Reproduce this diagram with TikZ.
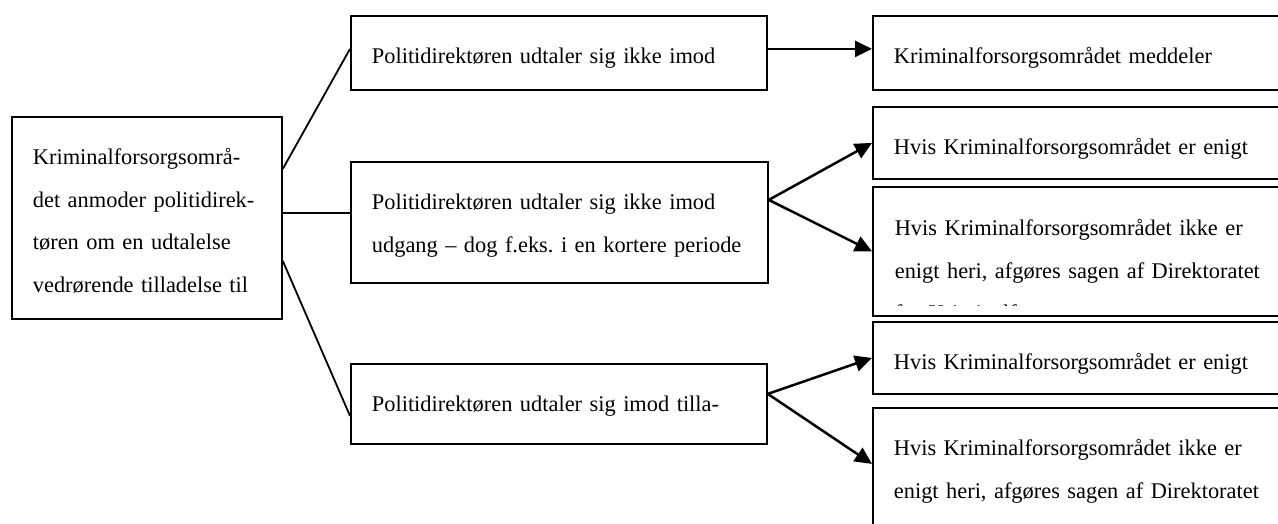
\documentclass[tikz,border=0pt]{standalone}
\usepackage{fontspec}
\setmainfont{Liberation Serif}
\usetikzlibrary{arrows.meta}
\newcommand\boxfont{\fontsize{22.4}{42.5}\selectfont\frenchspacing}
\begin{document}
\begin{tikzpicture}[x=1pt,y=-1pt,
  txt/.style={inner xsep=21pt, inner ysep=0pt, anchor=north west, align=left, font=\boxfont, text height=48pt},
  tbox/.style={txt, draw, line width=1.8pt},
  link/.style={line width=1.8pt},
  arr/.style={line width=2.5pt, -{Triangle[length=17pt,width=16pt]}}]
\clip (0,0) rectangle (1278,524);
\fill[white] (0,0) rectangle (1278,524);

% left box
\node[tbox, text width=228pt, text depth=154pt] (L) at (11,116)
  {Kriminalforsorgsområ-\\det anmoder politidirek-\\tøren om en udtalelse\\vedrørende tilladelse til};

% middle column
\node[tbox, text width=374pt, text depth=26pt] (T) at (350,15)
  {Politidirektøren udtaler sig ikke imod};
\node[tbox, text width=375pt, text depth=73pt] (M) at (350,161)
  {Politidirektøren udtaler sig ikke imod\\udgang -- dog f.eks. i en kortere periode};
\node[tbox, text width=374pt, text depth=32pt] (B) at (350,363)
  {Politidirektøren udtaler sig imod tilla-};

% right column
\node[tbox, text width=388pt, text depth=26pt] (R1) at (872,15)
  {Kriminalforsorgsområdet meddeler};
\node[tbox, text width=388pt, text depth=24pt] (R2) at (872,106)
  {Hvis Kriminalforsorgsområdet er enigt};
\node[draw, line width=1.8pt, inner sep=0pt, anchor=north west,
  minimum width=430pt, minimum height=129pt,
  path picture={
    \clip (path picture bounding box.north west) rectangle ([yshift=10pt]path picture bounding box.south east);
    \node[txt, text width=388pt] at (path picture bounding box.north west)
      {Hvis Kriminalforsorgsområdet ikke er\\enigt heri, afgøres sagen af Direktoratet\\for Kriminalforsorgen};
  }] (R3) at (872,186) {};
\node[tbox, text width=388pt, text depth=24pt] (R4) at (872,321)
  {Hvis Kriminalforsorgsområdet er enigt};
\node[tbox, text width=388pt, text depth=90pt] (R5) at (872,407)
  {Hvis Kriminalforsorgsområdet ikke er\\enigt heri, afgøres sagen af Direktoratet};

% connectors from left box
\draw[link] ([yshift=49pt]L.east) -- ([yshift=4pt]T.west);
\draw[link] ([yshift=5pt]L.east) -- ([yshift=5pt]L.east -| M.west);
\draw[link] ([yshift=-43pt]L.east) -- ([yshift=-12pt]B.west);

% arrows
\draw[arr] ([yshift=4pt]T.east) -- ([yshift=4pt]R1.west);
\draw[arr] ([yshift=22.5pt]M.east) -- (R2.west);
\draw[arr] ([yshift=22.5pt]M.east) -- (R3.west);
\draw[arr] ([yshift=10pt]B.east) -- (R4.west);
\draw[arr] ([yshift=10pt]B.east) -- ([yshift=13pt]R5.west);
\end{tikzpicture}
\end{document}
